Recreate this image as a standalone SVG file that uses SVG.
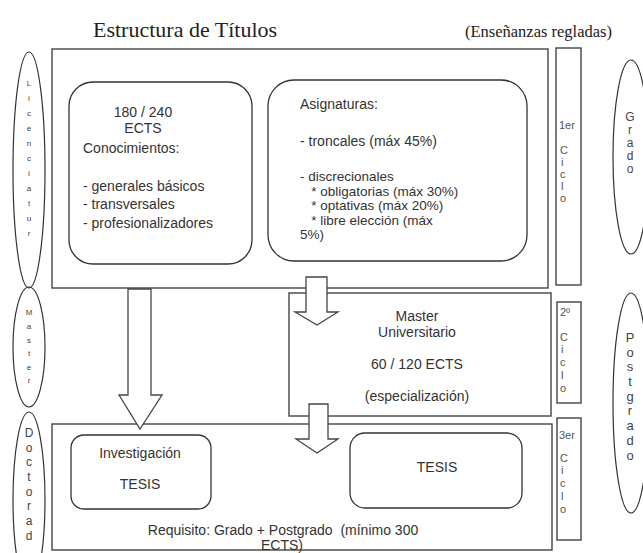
<svg xmlns="http://www.w3.org/2000/svg" width="643" height="553" viewBox="0 0 643 553">
<style>
.box{fill:none;stroke:#444;stroke-width:1.4}
.rbox{fill:none;stroke:#333;stroke-width:1.3}
.ell{fill:none;stroke:#333;stroke-width:1.2}
.arr{fill:#fff;stroke:#444;stroke-width:1.3;stroke-linejoin:miter}
.t{font-family:"Liberation Sans",Arial,sans-serif;font-size:14px;fill:#333}
.s{font-size:13.5px}
.c{text-anchor:middle}
.cy{font-family:"Liberation Sans",Arial,sans-serif;font-size:11px;fill:#555}
.el{font-family:"Liberation Sans",Arial,sans-serif;fill:#444;text-anchor:middle}
.title{font-family:"Liberation Serif","Times New Roman",serif;fill:#222}
</style>
<rect width="643" height="553" fill="#fff"/>
<g id="title">
<text class="title" x="93" y="37" font-size="22">Estructura de Títulos</text>
<text class="title" x="612" y="37" font-size="16.5" text-anchor="end">(Enseñanzas regladas)</text>
</g>
<g id="grado-box">
<rect class="box" x="52" y="49" width="496" height="239"/>
</g>
<g id="conocimientos">
<rect class="rbox" x="69" y="82" width="183" height="182" rx="24"/>
<text class="t c" x="143" y="117">180 / 240</text>
<text class="t c" x="143" y="133">ECTS</text>
<text class="t" x="83" y="153">Conocimientos:</text>
<text class="t" x="83" y="191">- generales básicos</text>
<text class="t" x="83" y="209">- transversales</text>
<text class="t" x="83" y="228">- profesionalizadores</text>
</g>
<g id="asignaturas">
<rect class="rbox" x="268" y="80" width="259" height="181" rx="26"/>
<text class="t" x="300" y="109">Asignaturas:</text>
<text class="t" x="300" y="146">- troncales (máx 45%)</text>
<text class="t s" x="300" y="181">- discrecionales</text>
<text class="t s" x="300" y="195.5" xml:space="preserve">   * obligatorias (máx 30%)</text>
<text class="t s" x="300" y="210" xml:space="preserve">   * optativas (máx 20%)</text>
<text class="t s" x="300" y="224.5" xml:space="preserve">   * libre elección (máx</text>
<text class="t s" x="300" y="239">5%)</text>
</g>
<g id="master">
<rect class="box" x="289" y="293" width="262" height="123"/>
<text class="t c" x="417" y="321">Master</text>
<text class="t c" x="417" y="337">Universitario</text>
<text class="t c" x="417" y="369">60 / 120 ECTS</text>
<text class="t c" x="417" y="401">(especialización)</text>
</g>
<g id="doctorado-box">
<rect class="box" x="52" y="424" width="500" height="126"/>
<text class="t c" x="283" y="535" xml:space="preserve">Requisito: Grado + Postgrado  (mínimo 300</text>
<text class="t c" x="282" y="550">ECTS)</text>
</g>
<g id="investigacion">
<rect class="rbox" x="71" y="435" width="140" height="74" rx="13"/>
<text class="t c" x="140" y="458">Investigación</text>
<text class="t c" x="140" y="489">TESIS</text>
</g>
<g id="tesis">
<rect class="rbox" x="350" y="433" width="172" height="75" rx="15"/>
<text class="t c" x="437" y="472">TESIS</text>
</g>
<g id="ciclo1">
<rect class="box" x="556" y="48" width="25" height="237"/>
<text class="cy" x="559" y="129">1er</text>
<text class="cy" x="560" y="154">C</text>
<text class="cy" x="561" y="166">i</text>
<text class="cy" x="560" y="178">c</text>
<text class="cy" x="561" y="190">l</text>
<text class="cy" x="560" y="202">o</text>
</g>
<g id="ciclo2">
<rect class="box" x="557" y="302" width="24" height="101"/>
<text class="cy" x="560" y="316">2º</text>
<text class="cy" x="560" y="341">C</text>
<text class="cy" x="561" y="353">i</text>
<text class="cy" x="560" y="366">c</text>
<text class="cy" x="561" y="379">l</text>
<text class="cy" x="560" y="392">o</text>
</g>
<g id="ciclo3">
<rect class="box" x="557" y="418" width="24" height="122"/>
<text class="cy" x="559" y="439">3er</text>
<text class="cy" x="560" y="462">C</text>
<text class="cy" x="561" y="474">i</text>
<text class="cy" x="560" y="487">c</text>
<text class="cy" x="561" y="500">l</text>
<text class="cy" x="560" y="513">o</text>
</g>
<g id="licenciatura">
<ellipse class="ell" cx="29" cy="170" rx="16" ry="118"/>
<text class="el" font-size="8"><tspan x="29" y="86">L</tspan><tspan x="29" y="101">i</tspan><tspan x="29" y="116">c</tspan><tspan x="29" y="131">e</tspan><tspan x="29" y="146">n</tspan><tspan x="29" y="161">c</tspan><tspan x="29" y="176">i</tspan><tspan x="29" y="191">a</tspan><tspan x="29" y="206">t</tspan><tspan x="29" y="221">u</tspan><tspan x="29" y="236">r</tspan></text>
</g>
<g id="master-ell">
<ellipse class="ell" cx="29" cy="347" rx="16" ry="60"/>
<text class="el" font-size="8"><tspan x="29" y="315">M</tspan><tspan x="29" y="329">a</tspan><tspan x="29" y="343">s</tspan><tspan x="29" y="356">t</tspan><tspan x="29" y="370">e</tspan><tspan x="29" y="383">r</tspan></text>
</g>
<g id="doctorado-ell">
<ellipse class="ell" cx="29" cy="500" rx="16" ry="88"/>
<text class="el" font-size="12"><tspan x="29" y="437">D</tspan><tspan x="29" y="452">o</tspan><tspan x="29" y="466">c</tspan><tspan x="29" y="481">t</tspan><tspan x="29" y="496">o</tspan><tspan x="29" y="510">r</tspan><tspan x="29" y="525">a</tspan><tspan x="29" y="540">d</tspan></text>
</g>
<g id="grado-ell">
<ellipse class="ell" cx="631" cy="157" rx="18" ry="97"/>
<text class="el" font-size="12"><tspan x="630" y="121">G</tspan><tspan x="630" y="134">r</tspan><tspan x="630" y="147">a</tspan><tspan x="630" y="160">d</tspan><tspan x="630" y="173">o</tspan></text>
</g>
<g id="postgrado-ell">
<ellipse class="ell" cx="631" cy="403" rx="18" ry="110"/>
<text class="el" font-size="13"><tspan x="630" y="342">P</tspan><tspan x="630" y="357">o</tspan><tspan x="630" y="371">s</tspan><tspan x="630" y="386">t</tspan><tspan x="630" y="401">g</tspan><tspan x="630" y="415">r</tspan><tspan x="630" y="430">a</tspan><tspan x="630" y="445">d</tspan><tspan x="630" y="460">o</tspan></text>
</g>
<g id="connectors">
<polygon class="arr" points="128,289 151,289 151,395 162,395 140,429 119,395 128,395"/>
<polygon class="arr" points="306,277 327,277 327,312 338,312 317,325 295,312 306,312"/>
<polygon class="arr" points="309,404 328,404 328,439 338,439 317,453 296,439 309,439"/>
</g>
</svg>
